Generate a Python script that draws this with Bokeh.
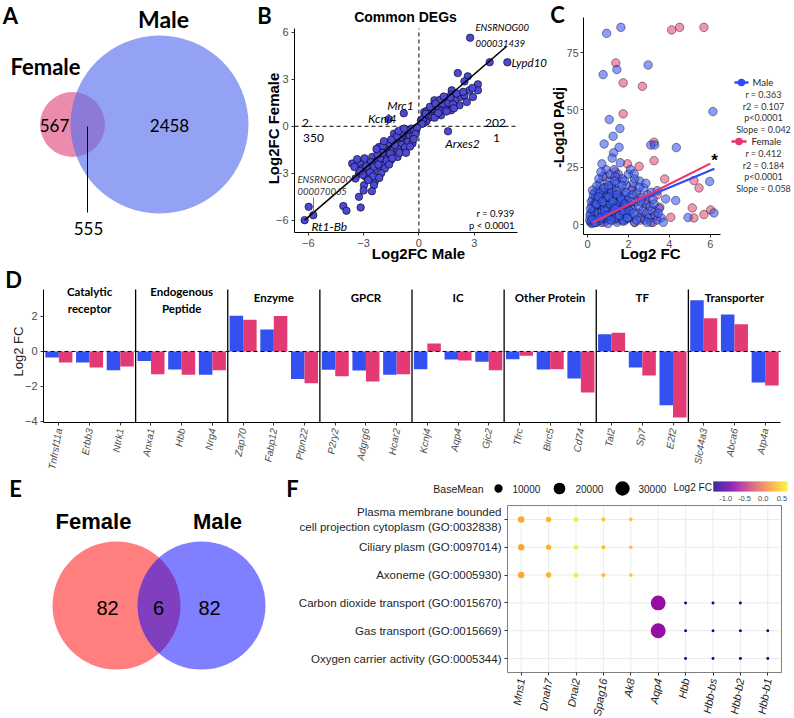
import math
from bokeh.plotting import figure
from bokeh.layouts import row, column
from bokeh.models import ColumnDataSource, Range1d, FixedTicker, Label
from bokeh.transform import linear_cmap
from bokeh.palettes import Plasma256
from bokeh.embed import file_html
from bokeh.resources import INLINE

# ---------------------------------------------------------------- data
# A: overlap of DEGs
venn_a_sets = ["Female", "Male"]
venn_a_counts = [567, 555, 2458]          # female only, shared, male only

# B: common DEGs, log2 fold change male vs female
b_male = [2.78, 3.84, 4.80, 2.11, 2.65, 2.47, 1.78, 3.20, 3.20, 2.93,
          2.25, 1.75, 1.29, 0.84, 0.93, 1.56, 2.20, 1.75, 1.20, 0.65,
          0.29, 0.47, 0.11, 1.02, 0.75, 1.96, 1.47, 2.47, 2.75, 0.35,
          0.55, 0.62, 0.80, 0.95, 1.10, 1.25, 1.40, 0.40, 0.25, 0.50,
          0.70, 0.85, 1.05, 1.30, 1.60, 1.85, 2.05, 1.15, 0.45, 0.30,
          0.60, 1.70, 2.40, 1.50, 0.90, 0.20, 0.15, 0.38, 1.35, 2.60,
          2.90, 1.90,
          -0.82, -1.64, 1.58,
          -5.98, -5.73, -6.20, -4.10, -3.93, -3.16, -3.25, -2.25, -2.40, -2.89,
          -3.25, -3.62, -3.16, -2.80, -2.16, -1.89, -1.53, -1.16, -0.80, -0.89,
          -1.35, -0.62, -0.44, -1.07, -1.71, -2.53, -3.07, -2.71, -1.98, -2.35,
          -3.44, -2.98, -2.44, -3.35, -2.95, -2.60, -2.10, -1.80, -1.60, -1.40,
          -1.25, -1.00, -0.85, -0.70, -0.55, -0.45, -0.35, -0.25, -0.20, -0.15,
          -0.60, -0.95, -1.15, -1.30, -1.55, -1.75, -2.00, -2.25, -2.45, -2.65,
          -2.85, -3.05, -3.20, -1.05, -0.75, -0.50, -0.30, -0.40, -0.65, -0.90,
          -1.20, -1.50, -1.95, -2.20, -2.50, -2.75, -3.00, -2.55, -1.85, -1.45,
          -0.35, -0.10, -0.18, -0.28, -0.48, -0.70, -1.62, -2.05, -1.10, -0.80,
          -1.90, -2.30, -3.50, -2.15]
b_female = [5.66, 4.09, 4.09, 3.40, 3.19, 2.87, 2.30, 2.68, 2.30, 1.87,
            1.87, 2.02, 1.55, 1.66, 1.23, 1.23, 1.34, 1.02, 0.70, 0.81,
            0.91, 0.49, 0.38, 1.02, 1.28, 1.66, 1.66, 1.98, 2.30, 0.55,
            0.95, 0.60, 0.90, 0.75, 1.15, 1.05, 1.30, 0.30, 0.20, 0.70,
            1.10, 0.55, 0.85, 1.45, 1.50, 1.40, 2.10, 1.70, 1.00, 0.65,
            1.25, 1.85, 2.20, 0.95, 1.45, 0.45, 0.15, 0.80, 1.90, 1.55,
            2.45, 1.15,
            0.83, 0.45, -0.32,
            -5.15, -5.68, -6.00, -5.10, -5.40, -5.19, -4.51, -2.91, -3.55, -3.23,
            -3.02, -2.38, -2.38, -2.81, -1.32, -1.96, -2.17, -1.96, -1.53, -0.89,
            -0.47, -0.47, -0.89, -1.32, -1.64, -1.96, -2.70, -2.49, -2.49, -2.28,
            -3.34, -3.77, -3.77, -2.10, -2.05, -2.30, -2.05, -1.40, -1.10, -1.55,
            -0.95, -0.70, -1.10, -0.60, -0.75, -0.45, -0.30, -0.35, -0.15, -0.25,
            -1.00, -1.20, -1.45, -1.20, -1.75, -2.20, -1.70, -1.80, -2.60, -2.95,
            -2.55, -3.10, -2.85, -1.70, -1.35, -0.55, -0.60, -0.15, -0.25, -0.45,
            -0.65, -0.85, -1.25, -2.45, -3.20, -3.45, -4.10, -4.15, -2.70, -2.05,
            -1.10, -0.08, -0.50, -0.82, -1.30, -1.70, -2.45, -3.00, -0.30, -0.15,
            -0.95, -1.45, -2.60, -3.30]
b_fit_x = [-6.2, 4.75]
b_fit_y = [-6.0, 5.1]
b_quadrant_counts = ["2", "202", "350", "1"]   # UL, UR, LL, LR
b_stats = ["r = 0.939", "p < 0.0001"]

# C: fold change vs significance
c_blue_x = [0.15, 0.2, 0.25, 0.3, 0.3, 0.35, 0.4, 0.4, 0.45, 0.5,
            0.5, 0.55, 0.6, 0.6, 0.65, 0.7, 0.7, 0.75, 0.8, 0.8,
            0.85, 0.9, 0.9, 0.95, 1.0, 1.0, 1.05, 1.1, 1.1, 1.15,
            1.2, 1.2, 1.25, 1.3, 1.3, 1.35, 1.4, 1.4, 1.45, 1.5,
            1.5, 1.55, 1.6, 1.65, 1.7, 1.7, 1.75, 1.8, 1.85, 1.9,
            1.95, 2.0, 2.0, 2.05, 2.1, 2.15, 2.2, 2.25, 2.3, 2.35,
            2.4, 2.45, 2.5, 2.55, 2.6, 2.65, 2.7, 2.75, 2.8, 2.85,
            2.9, 2.95, 3.0, 3.05, 3.1, 3.15, 3.2, 3.3, 3.4, 3.5,
            3.6, 0.2, 0.35, 0.55, 0.65, 0.45, 0.25, 0.85, 1.0, 1.35,
            1.6, 1.8, 2.1, 2.3, 0.15, 0.3, 0.5, 0.75, 0.95, 1.15,
            1.25, 1.55, 1.9, 2.2, 2.6, 3.25, 3.45, 0.1, 0.2, 0.4,
            0.6, 0.7, 1.05, 1.45, 1.75, 2.4, 2.9, 3.7,
            0.12, 0.18, 0.22, 0.28, 0.33, 0.38, 0.42, 0.48, 0.52, 0.58,
            0.62, 0.68, 0.72, 0.78, 0.82, 0.88, 0.92, 0.98, 1.02, 1.08,
            1.12, 1.18, 1.22, 1.28, 1.32, 1.38, 1.42, 1.48, 1.52, 1.58,
            1.62, 1.68, 1.72, 1.78, 1.82, 1.88, 1.92, 1.98,
            0.14, 0.24, 0.34, 0.44, 0.54, 0.64, 0.74, 0.84, 0.94, 1.04,
            1.14, 1.24, 1.34, 1.44, 1.54, 1.64, 1.74, 1.84, 1.94, 2.04,
            2.14, 2.24,
            0.93, 1.63, 0.76, 1.43, 2.96, 1.06, 1.58, 1.25, 0.81, 1.54,
            1.27, 3.09, 3.28, 4.34, 6.13, 5.97, 6.18, 4.91, 2.28, 2.85,
            2.52, 3.12, 3.82, 4.31, 3.41, 1.2, 0.7, 1.6]
c_blue_y = [1, 3, 6, 2, 9, 4, 12, 1, 7, 15,
            3, 10, 5, 18, 1, 8, 13, 21, 3, 11,
            16, 6, 24, 2, 9, 14, 19, 4, 22, 11,
            7, 16, 2, 13, 24, 5, 9, 18, 1, 12,
            22, 6, 15, 3, 10, 20, 7, 13, 2, 17,
            5, 9, 22, 12, 3, 15, 7, 18, 1, 10,
            14, 5, 8, 19, 3, 12, 6, 16, 2, 9,
            5, 13, 3, 8, 1, 6, 11, 4, 2, 7,
            3, 0.5, 14, 20, 23, 17, 11, 4, 0.5, 21,
            8, 19, 24, 20, 5, 7, 9, 14, 12, 17,
            8, 10, 11, 13, 10, 9, 5, 2, 8, 4,
            12, 3, 6, 3, 1.5, 2, 1, 1,
            4, 10, 2, 13, 6, 9, 1, 11, 5, 14,
            2, 10, 6, 16, 8, 3, 12, 7, 17, 4,
            9, 14, 11, 6, 19, 3, 15, 8, 10, 4,
            12, 17, 2, 9, 5, 14, 8, 3,
            7, 15, 0.8, 9, 12, 3, 10, 6, 4, 12,
            2, 10, 7, 13, 4, 11, 6, 9, 3, 6,
            10, 5,
            83.4, 86.0, 65.4, 67.6, 69.6, 45.8, 41.9, 38.5, 35.2, 33.7,
            31.3, 34.7, 34.7, 33.6, 49.3, 18.8, 5.1, 3.1, 22.1, 18.0,
            16.3, 14.1, 11.2, 10.5, 14.8, 29.0, 26.5, 27.0]
c_pink_x = [0.2, 0.3, 0.45, 0.6, 0.8, 0.9, 1.1, 1.3, 1.5, 1.7,
            1.9, 2.1, 2.3, 2.5, 2.7, 2.9, 3.1, 3.3, 1.0, 0.5,
            1.35, 0.9, 2.2, 0.7, 3.4, 0.25, 1.2, 2.6, 3.2,
            4.11, 4.5, 5.69, 1.38, 1.74, 2.68, 1.74, 3.25, 3.25, 1.95,
            2.52, 3.77, 5.2, 5.45, 2.85, 3.53, 4.07, 5.12, 5.2, 5.69,
            6.02, 1.43]
c_pink_y = [1, 3, 2, 5, 1, 7, 3, 10, 2, 6,
            4, 8, 1, 12, 5, 9, 3, 6, 16, 9,
            23, 21, 16, 12, 13, 6, 14, 2, 1,
            84.9, 86.0, 86.0, 70.5, 61.8, 60.3, 48.3, 35.9, 27.9, 26.5,
            25.4, 19.9, 19.2, 16.0, 10.5, 7.6, 3.2, 7.3, 2.9, 4.4,
            6.4, 20.6]
c_fit_blue_x, c_fit_blue_y = [0.1, 6.2], [1.7, 24.4]
c_fit_pink_x, c_fit_pink_y = [0.25, 6.0], [0.9, 26.6]
c_series = ["Male", "Female"]
c_stats = [["r = 0.363", "r2 = 0.107", "p<0.0001", "Slope = 0.042"],
           ["r = 0.412", "r2 = 0.184", "p<0.0001", "Slope = 0.058"]]

# D: log2 fold change of target classes
d_groups = [["Catalytic", "receptor"], ["Endogenous", "Peptide"], ["Enzyme"], ["GPCR"],
            ["IC"], ["Other Protein"], ["TF"], ["Transporter"]]
d_genes = ["Tnfrsf11a", "Erbb3", "Ntrk1", "Anxa1", "Hbb", "Nrg4", "Zap70", "Fabp12",
           "Ptpn22", "P2ry2", "Adgrg6", "Hcar2", "Kcnj4", "Aqp4", "Gjc2", "Tfrc",
           "Birc5", "Cd74", "Tal2", "Sp7", "E2f2", "Slc44a3", "Abca6", "Atp4a"]
d_male = [-0.34, -0.63, -1.07, -0.55, -1.03, -1.33, 2.04, 1.26, -1.58, -1.05, -1.09, -1.33,
          -1.01, -0.46, -0.59, -0.44, -1.03, -1.54, 0.99, -0.91, -3.07, 2.93, 2.11, -1.77]
d_female = [-0.63, -0.91, -0.86, -1.30, -1.33, -1.07, 1.81, 2.02, -1.81, -1.41, -1.71, -1.30,
            0.46, -0.51, -1.07, -0.25, -1.01, -2.34, 1.07, -1.37, -3.77, 1.90, 1.56, -1.94]

# E: overlap of enriched terms
venn_e_sets = ["Female", "Male"]
venn_e_counts = [82, 6, 82]

# F: GO term enrichment dot plot
f_genes = ["Mns1", "Dnah7", "Dnai2", "Spag16", "Ak8", "Aqp4", "Hbb", "Hbb-bs", "Hbb-b2", "Hbb-b1"]
f_terms = ["Plasma membrane bounded\ncell projection cytoplasm (GO:0032838)",
           "Ciliary plasm (GO:0097014)",
           "Axoneme (GO:0005930)",
           "Carbon dioxide transport (GO:0015670)",
           "Gas transport (GO:0015669)",
           "Oxygen carrier activity (GO:0005344)"]
f_term_genes = [["Mns1", "Dnah7", "Dnai2", "Spag16", "Ak8"],
                ["Mns1", "Dnah7", "Dnai2", "Spag16", "Ak8"],
                ["Mns1", "Dnah7", "Dnai2", "Spag16", "Ak8"],
                ["Aqp4", "Hbb", "Hbb-bs", "Hbb-b2"],
                ["Aqp4", "Hbb", "Hbb-bs", "Hbb-b2", "Hbb-b1"],
                ["Hbb", "Hbb-bs", "Hbb-b2", "Hbb-b1"]]
f_gene_lfc = [0.26, 0.33, 0.62, 0.42, 0.40, -0.72, -1.33, -1.33, -1.33, -1.33]
f_gene_basemean = [6100, 4300, 3100, 2500, 1900, 32000, 1300, 1300, 1300, 1300]
f_size_legend = [10000, 20000, 30000]
f_lfc_ticks = [-1.0, -0.5, 0.0, 0.5]
f_low, f_high = -1.33, 0.65

# ---------------------------------------------------------------- style
BLUE_A, PINK_A = "#5A70EE", "#E0457B"
BLUE_B = "#4B49D6"
BLUE_C, PINK_C = "#3D5CF5", "#E8507F"
LINE_BLUE_C, LINE_PINK_C = "#2F4BF5", "#E8336E"
BLUE_D, PINK_D = "#3350F0", "#E33A75"
SANS = "Liberation Sans"
HUM = "Lato"
COMMON = dict(output_backend="svg", toolbar_location=None)


def blank(w, h, x0=0, y0=0):
    """Axis-less canvas whose data units are page pixels (y grows downward)."""
    p = figure(width=w, height=h, x_range=Range1d(x0, x0 + w), y_range=Range1d(y0 + h, y0),
               x_axis_type=None, y_axis_type=None, min_border=0, **COMMON)
    p.grid.visible = False
    p.outline_line_color = None
    return p


def panel(box, frame, xlim, ylim, standoff=3):
    """Figure covering `box` (page px) whose plotting panel sits at `frame`.

    The axes are pinned to the panel edges, so titles, legends and notes
    around the panel are drawn inside the same canvas.  Returns the figure
    and two helpers turning page pixels into data coordinates."""
    bx0, by0, bw, bh = box
    fx0, fy0, fx1, fy1 = frame
    sx = (fx1 - fx0) / (xlim[1] - xlim[0])
    sy = (fy1 - fy0) / (ylim[1] - ylim[0])
    xr = Range1d(xlim[0] - (fx0 - bx0) / sx, xlim[1] + (bx0 + bw - fx1) / sx)
    yr = Range1d(ylim[0] - (by0 + bh - fy1) / sy, ylim[1] + (fy0 - by0) / sy)
    p = figure(width=bw, height=bh, x_range=xr, y_range=yr, min_border=0, **COMMON)
    p.grid.visible = False
    p.outline_line_color = None
    p.xaxis.fixed_location = ylim[0]
    p.xaxis.bounds = tuple(xlim)
    p.yaxis.fixed_location = xlim[0]
    p.yaxis.bounds = tuple(ylim)
    for ax in p.axis:
        ax.axis_line_color = "black"
        ax.axis_line_width = 1
        ax.major_tick_line_color = "#333333"
        ax.major_tick_out = 3
        ax.major_tick_in = 0
        ax.minor_tick_line_color = None
        ax.major_label_text_font = SANS
        ax.major_label_text_font_size = "11px"
        ax.major_label_text_color = "#4D4D4D"
        ax.major_label_standoff = standoff
    X = lambda px: xlim[0] + (px - fx0) / sx
    Y = lambda py: ylim[0] + (fy1 - py) / sy
    return p, X, Y, sx, sy


def put(p, x, y, s, size, font=HUM, style="normal", color="black", align="center",
        baseline="middle", angle=0.0):
    p.add_layout(Label(x=x, y=y, text=s, text_font=font, text_font_size=f"{size}px",
                       text_font_style=style, text_color=color, text_align=align,
                       text_baseline=baseline, angle=angle))


# ---------------------------------------------------------------- A
pA = blank(250, 264)
pA.circle(x=[72], y=[124], radius=32.5, fill_color=PINK_A, fill_alpha=0.62, line_color=None)
pA.circle(x=[159], y=[124], radius=89, fill_color=BLUE_A, fill_alpha=0.65, line_color=None)
pA.segment(x0=[87], y0=[126], x1=[87], y1=[212], line_color="black", line_width=1)
put(pA, 10, 15, "A", 22, style="bold")
put(pA, 163, 18, venn_a_sets[1], 23, style="bold")
put(pA, 45, 66, venn_a_sets[0], 22, style="bold")
put(pA, 54, 125, str(venn_a_counts[0]), 17)
put(pA, 169, 125, str(venn_a_counts[2]), 17)
put(pA, 88, 228, str(venn_a_counts[1]), 17)

# ---------------------------------------------------------------- B
pB, BX, BY, _, _ = panel((250, 0, 298, 264), (294, 28, 517, 232), (-6.75, 5.35), (-6.79, 6.25))
pB.xaxis.ticker = FixedTicker(ticks=[-6, -3, 0, 3])
pB.yaxis.ticker = FixedTicker(ticks=[-6, -3, 0, 3, 6])
pB.segment(x0=[0, -6.75], y0=[-6.79, 0], x1=[0, 5.35], y1=[6.25, 0],
           line_color="black", line_dash="4 3", line_width=1)
pB.scatter(b_male, b_female, size=7.5, fill_color=BLUE_B, line_color="black", line_width=0.6)
pB.line(b_fit_x, b_fit_y, line_color="black", line_width=1.6)
pB.segment(x0=[BX(313)], y0=[BY(197)], x1=[BX(313)], y1=[BY(213)], line_color="#555555", line_width=0.8)
put(pB, BX(264), BY(15), "B", 22, style="bold")
put(pB, BX(405), BY(16), "Common DEGs", 14, font=SANS, style="bold")
put(pB, BX(273), BY(128), "Log2FC Female", 15, font=SANS, style="bold", angle=math.pi / 2)
put(pB, BX(418), BY(253), "Log2FC Male", 15, font=SANS, style="bold")
put(pB, BX(305), BY(122), b_quadrant_counts[0], 12)
put(pB, BX(495), BY(122), b_quadrant_counts[1], 12)
put(pB, BX(313), BY(137), b_quadrant_counts[2], 12)
put(pB, BX(496), BY(137), b_quadrant_counts[3], 12)
put(pB, BX(400), BY(105), "Mrc1", 12, style="italic")
put(pB, BX(396), BY(118), "Kcnj4", 12, style="italic", align="right")
put(pB, BX(462), BY(143), "Arxes2", 12, style="italic")
put(pB, BX(475), BY(27), "ENSRNOG00", 9.5, style="italic", align="left")
put(pB, BX(475), BY(43), "000031439", 9.5, style="italic", align="left")
put(pB, BX(511), BY(62), "Lypd10", 11.5, style="italic", align="left")
put(pB, BX(297), BY(179), "ENSRNOG00", 9.5, style="italic", align="left", color="#333333")
put(pB, BX(297), BY(191), "000070065", 9.5, style="italic", align="left", color="#333333")
put(pB, BX(311), BY(226), "Rt1-Bb", 12, style="italic", align="left")
put(pB, BX(514), BY(213), b_stats[0], 9.5, align="right")
put(pB, BX(514), BY(225), b_stats[1], 9.5, align="right")

# ---------------------------------------------------------------- C (with its legend)
pC, CX, CY, _, _ = panel((548, 0, 246, 264), (583, 17, 720, 234), (-0.2, 6.5), (-4.3, 90.3),
                         standoff=2)
pC.xaxis.ticker = FixedTicker(ticks=[0, 2, 4, 6])
pC.yaxis.ticker = FixedTicker(ticks=[0, 25, 50, 75])
pC.yaxis.major_label_text_font_size = "10.5px"
pC.scatter(c_pink_x, c_pink_y, size=8.5, fill_color=PINK_C, fill_alpha=0.6,
           line_color="black", line_alpha=0.7, line_width=0.6)
pC.scatter(c_blue_x, c_blue_y, size=8.5, fill_color=BLUE_C, fill_alpha=0.6,
           line_color="black", line_alpha=0.7, line_width=0.6)
pC.line(c_fit_blue_x, c_fit_blue_y, line_color=LINE_BLUE_C, line_width=2.2)
pC.line(c_fit_pink_x, c_fit_pink_y, line_color=LINE_PINK_C, line_width=2.2)
put(pC, CX(557), CY(14), "C", 22, style="bold")
put(pC, CX(558), CY(127), "-Log10 PAdj", 14, font=SANS, style="bold", angle=math.pi / 2)
put(pC, CX(650), CY(253), "Log2 FC", 15, font=SANS, style="bold")
put(pC, CX(714), CY(160), "*", 17, font=SANS, style="bold")
for k, (col, ly, lx0, lx1, tx) in enumerate([(LINE_BLUE_C, 82, 734, 748, 752),
                                             (LINE_PINK_C, 141, 731, 746, 751)]):
    pC.line([CX(lx0), CX(lx1)], [CY(ly), CY(ly)], line_color=col, line_width=2.5)
    pC.scatter([CX((lx0 + lx1) / 2)], [CY(ly)], size=7.5, fill_color=col, line_color=None)
    put(pC, CX(tx), CY(ly), c_series[k], 9.5, color="#222222", align="left")
    for j, s in enumerate(c_stats[k]):
        put(pC, CX(763), CY(ly + 12 + 11.5 * j), s, 9, color="#333333")

# ---------------------------------------------------------------- D
n_d = len(d_genes)
pD, DX, DY, _, _ = panel((0, 264, 794, 212), (43, 289, 780, 422), (0.5, n_d + 0.5), (-4.06, 3.54))
pD.yaxis.ticker = FixedTicker(ticks=[-4, -2, 0, 2])
pD.xaxis.ticker = FixedTicker(ticks=list(range(1, n_d + 1)))
pD.xaxis.major_label_overrides = {i + 1: g for i, g in enumerate(d_genes)}
pD.xaxis.major_label_orientation = math.radians(80)
pD.xaxis.major_label_text_font_style = "italic"
pD.xaxis.major_label_text_font_size = "10px"
pos = list(range(1, n_d + 1))
pD.vbar(x=[p - 0.22 for p in pos], top=d_male, width=0.44, fill_color=BLUE_D, line_color=None)
pD.vbar(x=[p + 0.22 for p in pos], top=d_female, width=0.44, fill_color=PINK_D, line_color=None)
pD.segment(x0=[0.5], y0=[0], x1=[n_d + 0.5], y1=[0], line_color="black", line_dash="4 3", line_width=1)
seps = [3 * g + 0.5 for g in range(1, len(d_groups))]
pD.segment(x0=seps, y0=[-4.06] * len(seps), x1=seps, y1=[3.54] * len(seps),
           line_color="black", line_width=1.3)
for g, lines in enumerate(d_groups):
    ys = [291, 308] if len(lines) == 2 else [297]
    for t, yy in zip(lines, ys):
        put(pD, 3 * g + 2, DY(yy), t, 11.5, style="bold")
put(pD, DX(13), DY(279), "D", 22, style="bold")
put(pD, DX(18), DY(351), "Log2 FC", 13, font=SANS, angle=math.pi / 2, color="#222222")

# ---------------------------------------------------------------- E
pE = blank(280, 242, 0, 476)
pE.circle(x=[116], y=[605], radius=64, fill_color="#FF0000", fill_alpha=0.5, line_color=None)
pE.circle(x=[201], y=[605], radius=64, fill_color="#0000FF", fill_alpha=0.5, line_color=None)
put(pE, 15, 488, "E", 22, style="bold")
put(pE, 93, 521, venn_e_sets[0], 22, font=SANS, style="bold")
put(pE, 217, 521, venn_e_sets[1], 22, font=SANS, style="bold")
put(pE, 107, 607, str(venn_e_counts[0]), 20, font=SANS)
put(pE, 158, 607, str(venn_e_counts[1]), 20, font=SANS)
put(pE, 209, 607, str(venn_e_counts[2]), 20, font=SANS)

# ---------------------------------------------------------------- F
def size_of(bm):
    return 0.083 * math.sqrt(bm)


n_g, n_t = len(f_genes), len(f_terms)
pF, FX, FY, fsx, fsy = panel((280, 476, 514, 242), (507, 505, 781, 672), (0.5, n_g + 0.5), (0.5, n_t + 0.5))
for ax in pF.axis:
    ax.axis_line_color = None
    ax.major_label_text_color = "#262626"
pF.xaxis.ticker = FixedTicker(ticks=list(range(1, n_g + 1)))
pF.xaxis.major_label_overrides = {i + 1: g for i, g in enumerate(f_genes)}
pF.xaxis.major_label_orientation = math.radians(80)
pF.xaxis.major_label_text_font_style = "italic"
pF.yaxis.ticker = FixedTicker(ticks=list(range(1, n_t + 1)))
pF.yaxis.major_label_overrides = {n_t - i: t for i, t in enumerate(f_terms)}
pF.yaxis.major_label_text_font_size = "11.5px"
# light grid and grey panel border
gx = list(range(1, n_g + 1))
gy = list(range(1, n_t + 1))
pF.segment(x0=gx, y0=[0.5] * n_g, x1=gx, y1=[n_t + 0.5] * n_g, line_color="#EBEBEB", line_width=1)
pF.segment(x0=[0.5] * n_t, y0=gy, x1=[n_g + 0.5] * n_t, y1=gy, line_color="#EBEBEB", line_width=1)
pF.quad(left=[0.5], right=[n_g + 0.5], bottom=[0.5], top=[n_t + 0.5],
        fill_color=None, line_color="#7F7F7F", line_width=1)
rec = dict(x=[], y=[], lfc=[], size=[])
for i, genes in enumerate(f_term_genes):
    for g in genes:
        j = f_genes.index(g)
        rec["x"].append(j + 1)
        rec["y"].append(n_t - i)
        rec["lfc"].append(f_gene_lfc[j])
        rec["size"].append(size_of(f_gene_basemean[j]))
pF.scatter(x="x", y="y", size="size", source=ColumnDataSource(rec), line_color=None,
           fill_color=linear_cmap("lfc", Plasma256, f_low, f_high))

# legend above the dot plot
put(pF, FX(292), FY(488), "F", 22, style="bold")
put(pF, FX(483), FY(488), "BaseMean", 10.5, font=SANS, color="#1A1A1A", align="right")
pF.scatter(x=[FX(498), FX(559), FX(622)], y=[FY(488)] * 3,
           size=[size_of(v) for v in f_size_legend], fill_color="black", line_color=None)
for lx, v in zip([512, 575, 638], f_size_legend):
    put(pF, FX(lx), FY(488), str(v), 10, font=SANS, color="#1A1A1A", align="left")
put(pF, FX(673), FY(487), "Log2 FC", 10, font=SANS, color="#1A1A1A", align="left")
n_ramp = 74
ramp_v = [f_low + (i + 0.5) / n_ramp * (f_high - f_low) for i in range(n_ramp)]
ramp_src = ColumnDataSource(dict(
    x=[FX(713 + (v - f_low) / (f_high - f_low) * 74) for v in ramp_v], v=ramp_v))
pF.rect(x="x", y=FY(486), width=1.2 / fsx, height=10 / fsy, source=ramp_src, line_color=None,
        fill_color=linear_cmap("v", Plasma256, f_low, f_high))
for v in f_lfc_ticks:
    put(pF, FX(713 + (v - f_low) / (f_high - f_low) * 74), FY(498), f"{v:.1f}", 7.5,
        font=SANS, color="#4D4D4D")

# ---------------------------------------------------------------- layout
page = column(row(pA, pB, pC), pD, row(pE, pF))
open("out.html", "w").write(file_html(page, INLINE))
